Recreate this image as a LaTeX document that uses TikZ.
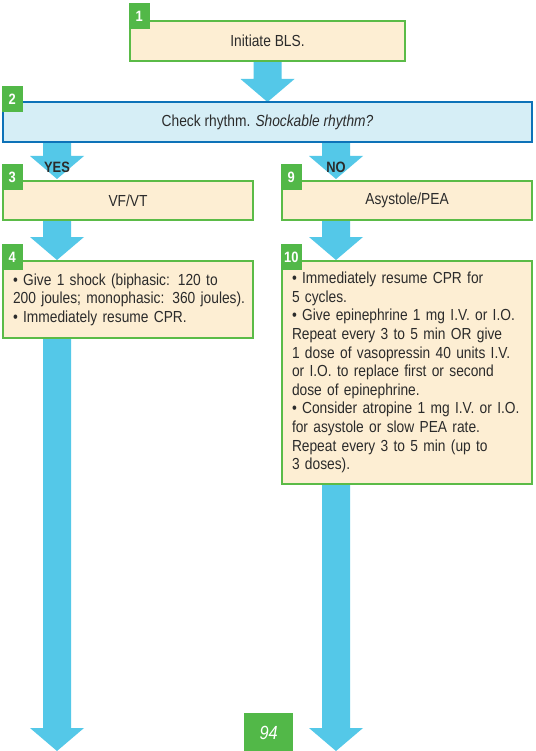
\documentclass[tikz,border=0pt]{standalone}
\usepackage{fontspec}
\setmainfont{Liberation Sans}[FakeStretch=0.86]
\usetikzlibrary{calc}
\definecolor{gborder}{HTML}{5BBB47}
\definecolor{gbadge}{HTML}{52B848}
\definecolor{cream}{HTML}{FDEED3}
\definecolor{arrowc}{HTML}{54C8E8}
\definecolor{bluefill}{HTML}{D6EEF6}
\definecolor{blueborder}{HTML}{0D72B8}
\definecolor{txt}{HTML}{2B2B2B}
\newcommand\fatarrow[2]{%
  \fill[arrowc] let \p1=(#1), \p2=(#2) in
    (\x1-14pt,\y1) -- (\x1-14pt,\y2+23pt) -- (\x1-27pt,\y2+23pt) -- (\x1,\y2)
    -- (\x1+27pt,\y2+23pt) -- (\x1+14pt,\y2+23pt) -- (\x1+14pt,\y1) -- cycle;}
\begin{document}
\begin{tikzpicture}[x=1pt,y=-1pt,
  box/.style={draw=gborder, line width=2.4pt, fill=cream, outer sep=0pt,
    inner sep=0pt, text=txt, font=\fontsize{16}{18.6}\selectfont, anchor=north west},
  textbox/.style={box, align=left, text width=230pt, inner xsep=10pt},
  badge/.style={fill=gbadge, minimum width=21pt, minimum height=26pt, inner sep=0pt,
    outer sep=0pt, text=white, font=\bfseries\fontsize{15}{15}\selectfont, anchor=north west},
  yesno/.style={text=txt, font=\bfseries\fontsize{15}{15}\selectfont, inner sep=0pt}]
\useasboundingbox[fill=white] (0,0) rectangle (535,751);

% nodes positions
\path (130,21) coordinate (p1) (3,102) coordinate (p2) (3,181) coordinate (p3)
  (282,181) coordinate (p9) (3,261) coordinate (p4) (282,261) coordinate (p10);

% arrows (drawn first, under boxes)
\path (p1) ++(137.5,40) coordinate (a1s);
\path (p2) ++(264.5,0) coordinate (a1t);
\fatarrow{a1s}{a1t}
\path (p2) ++(54,40) coordinate (a2s);
\path (p3) ++(54,-2) coordinate (a2t);
\fatarrow{a2s}{a2t}
\path (p2) ++(333,40) coordinate (a3s);
\path (p9) ++(54,-2) coordinate (a3t);
\fatarrow{a3s}{a3t}
\path (p3) ++(54,39) coordinate (a4s);
\path (p4) ++(54,-1) coordinate (a4t);
\fatarrow{a4s}{a4t}
\path (p9) ++(54,39) coordinate (a5s);
\path (p10) ++(54,-1) coordinate (a5t);
\fatarrow{a5s}{a5t}
\path (p4) ++(54,77) coordinate (a6s);
\coordinate (endL) at (57,751);
\fatarrow{a6s}{endL}
\path (p10) ++(54,223) coordinate (a7s);
\coordinate (endR) at (336,751);
\fatarrow{a7s}{endR}

% boxes
\node[box, minimum width=275pt, minimum height=40pt] (b1) at (p1) {Initiate BLS.};
\node[box, draw=blueborder, fill=bluefill, minimum width=529pt, minimum height=40pt] (b2) at (p2)
  {Check rhythm. \textit{Shockable rhythm?}};
\node[box, minimum width=250pt, minimum height=39pt] (b3) at (p3) {VF/VT};
\node[box, minimum width=250pt, minimum height=39pt] (b9) at (p9) {Asystole/PEA};
\node[textbox, minimum height=77pt] (b4) at (p4)
  {\mbox{• Give 1 shock (biphasic: 120 to}\\
   \mbox{200 joules; monophasic: 360 joules).}\\
   \mbox{• Immediately resume CPR.}};
\node[textbox, minimum height=223pt] (b10) at (p10)
  {\mbox{• Immediately resume CPR for}\\
   5 cycles.\\
   \mbox{• Give epinephrine 1 mg I.V. or I.O.}\\
   \mbox{Repeat every 3 to 5 min OR give}\\
   \mbox{1 dose of vasopressin 40 units I.V.}\\
   \mbox{or I.O. to replace first or second}\\
   \mbox{dose of epinephrine.}\\
   \mbox{• Consider atropine 1 mg I.V. or I.O.}\\
   \mbox{for asystole or slow PEA rate.}\\
   \mbox{Repeat every 3 to 5 min (up to}\\
   3 doses).};

% badges
\node[badge] (n1) at ($(b1.north west)+(-1.2,-18)$) {1};
\node[badge] (n2) at ($(b2.north west)+(-1.2,-16)$) {2};
\node[badge] (n3) at ($(b3.north west)+(-1.2,-17)$) {3};
\node[badge] (n9) at ($(b9.north west)+(-1.2,-17)$) {9};
\node[badge] (n4) at ($(b4.north west)+(-1.2,-17)$) {4};
\node[badge] (n10) at ($(b10.north west)+(-1.2,-17)$) {10};

% YES / NO
\node[yesno] (yes) at ($(a2t)+(0,-12)$) {YES};
\node[yesno] (no) at ($(a3t)+(0,-12)$) {NO};

% page number
\node[fill=gbadge, minimum width=49pt, minimum height=40pt, inner sep=0pt, anchor=north west,
  text=white, font=\itshape\fontsize{19}{19}\selectfont] (pg) at (244,713) {94};
\end{tikzpicture}
\end{document}
